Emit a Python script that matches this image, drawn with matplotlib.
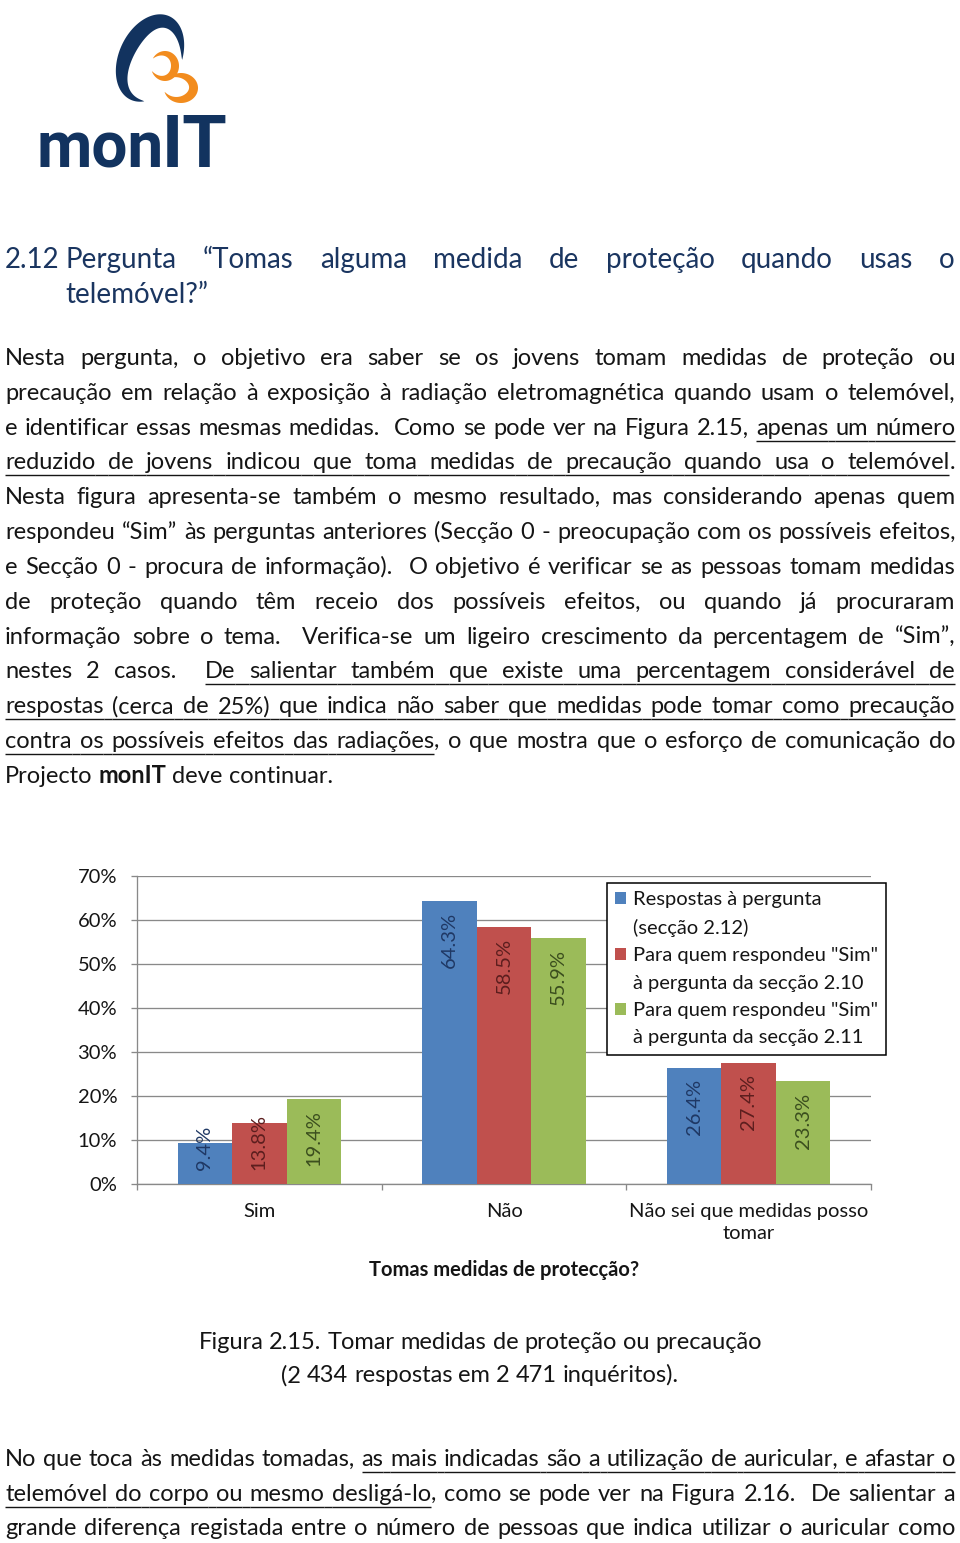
import numpy as np
import matplotlib
matplotlib.use('Agg')
import matplotlib.pyplot as plt
from matplotlib.lines import Line2D
from matplotlib.patches import Polygon, Patch

W, H = 960, 1543
BODY_FONT = ['Lato', 'DejaVu Sans']
LOGO_FONT = ['Roboto', 'DejaVu Sans']
TEXT_COLOR = '#151515'
HEAD_COLOR = '#1A3560'
NAVY = '#12335F'
ORANGE = '#F28C1E'
GRID = '#898989'
plt.rcParams['font.family'] = BODY_FONT

# ---------------- data ----------------
categories = ['Sim', 'Não', 'Não sei que medidas posso\ntomar']
series_names = ['Respostas à pergunta\n(secção 2.12)',
                'Para quem respondeu "Sim"\nà pergunta da secção 2.10',
                'Para quem respondeu "Sim"\nà pergunta da secção 2.11']
resp_2_12 = [9.4, 64.3, 26.4]
sim_2_10 = [13.8, 58.5, 27.4]
sim_2_11 = [19.4, 55.9, 23.3]
bar_colors = ['#4F81BD', '#C0504D', '#9BBB59']
label_colors = ['#1F3864', '#5C1E1E', '#3B4E1E']
y_ticks = [0, 10, 20, 30, 40, 50, 60, 70]
y_tick_labels = ['0%', '10%', '20%', '30%', '40%', '50%', '60%', '70%']
x_title = 'Tomas medidas de protecção?'

heading_num = '2.12'
heading_line1 = 'Pergunta  “Tomas  alguma  medida  de  proteção  quando  usas  o'
heading_line2 = 'telemóvel?”'

para1 = [
    'Nesta pergunta, o objetivo era saber se os jovens tomam medidas de proteção ou',
    'precaução em relação à exposição à radiação eletromagnética quando usam o telemóvel,',
    'e identificar essas mesmas medidas.  Como se pode ver na Figura 2.15, _apenas um número_',
    '_reduzido de jovens indicou que toma medidas de precaução quando usa o telemóvel_.',
    'Nesta figura apresenta-se também o mesmo resultado, mas considerando apenas quem',
    'respondeu “Sim” às perguntas anteriores (Secção 0 - preocupação com os possíveis efeitos,',
    'e Secção 0 - procura de informação).  O objetivo é verificar se as pessoas tomam medidas',
    'de proteção quando têm receio dos possíveis efeitos, ou quando já procuraram',
    'informação sobre o tema.  Verifica-se um ligeiro crescimento da percentagem de “Sim”,',
    'nestes 2 casos.  _De salientar também que existe uma percentagem considerável de_',
    '_respostas (cerca de 25%) que indica não saber que medidas pode tomar como precaução_',
    '_contra os possíveis efeitos das radiações_, o que mostra que o esforço de comunicação do',
    'Projecto *monIT* deve continuar.',
]
caption = ['Figura 2.15. Tomar medidas de proteção ou precaução',
           '(2 434 respostas em 2 471 inquéritos).']
para2 = [
    'No que toca às medidas tomadas, _as mais indicadas são a utilização de auricular, e afastar o_',
    '_telemóvel do corpo ou mesmo desligá-lo_, como se pode ver na Figura 2.16.  De salientar a',
    'grande diferença registada entre o número de pessoas que indica utilizar o auricular como',
]

BODY = 17.0
HEAD = 20.0
CS = 14.5

fig = plt.figure(figsize=(W / 100, H / 100), dpi=100)
fig.patch.set_facecolor('white')
renderer = fig.canvas.get_renderer()


def tw(s, size, weight='normal'):
    t = fig.text(0, 0, s, fontsize=size, fontweight=weight, family=BODY_FONT)
    w = t.get_window_extent(renderer=renderer).width
    t.remove()
    return w


def uline(xa, xb, y, color, lw=1.4):
    fig.add_artist(Line2D([xa / W, xb / W], [1 - y / H, 1 - y / H],
                          transform=fig.transFigure, color=color,
                          lw=lw * 0.72, solid_capstyle='butt'))


def tokenize(line):
    chars = []
    u = b = False
    for ch in line:
        if ch == '_':
            u = not u
            continue
        if ch == '*':
            b = not b
            continue
        chars.append((ch, u, b))
    tokens = []
    for ch, u, b in chars:
        if ch == ' ':
            if tokens and tokens[-1][0] == 'g':
                tokens[-1][1] += 1
                tokens[-1][2] = tokens[-1][2] and u
            else:
                tokens.append(['g', 1, u])
        else:
            if tokens and tokens[-1][0] == 'w':
                tokens[-1][1].append((ch, u, b))
            else:
                tokens.append(['w', [(ch, u, b)]])
    return tokens


def group_runs(chars):
    runs = []
    for ch, u, b in chars:
        if runs and runs[-1][1] == u and runs[-1][2] == b:
            runs[-1][0] += ch
        else:
            runs.append([ch, u, b])
    return runs


def draw_line(line, x0, x1, base, size, color, mode='justify', uoff=6):
    items = []
    total = 0
    nsp = 0
    for tok in tokenize(line):
        if tok[0] == 'w':
            runs = group_runs(tok[1])
            ws = [tw(r[0], size, 'bold' if r[2] else 'normal') for r in runs]
            items.append(('w', runs, ws))
            total += sum(ws)
        else:
            items.append(('g', tok[1], tok[2]))
            nsp += tok[1]
    space = tw('a a', size) - tw('aa', size)
    sp = (x1 - x0 - total) / nsp if (mode == 'justify' and nsp) else space
    x = x0 if mode != 'center' else (x0 + x1) / 2 - (total + nsp * sp) / 2
    for it in items:
        if it[0] == 'w':
            for r, w in zip(it[1], it[2]):
                fig.text(x / W, 1 - base / H, r[0], fontsize=size,
                         fontweight='bold' if r[2] else 'normal',
                         family=BODY_FONT, color=color, va='baseline', ha='left')
                if r[1]:
                    uline(x, x + w, base + uoff, color)
                x += w
        else:
            w = it[1] * sp
            if it[2]:
                uline(x, x + w, base + uoff, color)
            x += w


# ---------------- logo ----------------
axl = fig.add_axes([0, 1 - 190 / H, 260 / W, 190 / H])
axl.set_xlim(0, 260)
axl.set_ylim(190, 0)
axl.axis('off')


def crescent(cx, cy, a, b, rot, t0, t1, wmax, n=160):
    t = np.radians(np.linspace(t0, t1, n))
    w = wmax * np.sin(np.pi * np.linspace(0, 1, n)) ** 0.8
    ox, oy = a * np.cos(t), b * np.sin(t)
    ix, iy = (a - w) * np.cos(t), (b - w) * np.sin(t)
    xs = np.concatenate([ox, ix[::-1]])
    ys = np.concatenate([oy, iy[::-1]])
    r = np.radians(rot)
    X = cx + xs * np.cos(r) - ys * np.sin(r)
    Y = cy + xs * np.sin(r) + ys * np.cos(r)
    return np.column_stack([X, Y])


axl.add_patch(Polygon(crescent(150, 58, 31, 46, 25, -15, -295, 16), closed=True,
                      facecolor=NAVY, edgecolor='none'))
axl.add_patch(Polygon(crescent(165, 66, 14, 15, 0, 160, -150, 8), closed=True,
                      facecolor=ORANGE, edgecolor='none'))
axl.add_patch(Polygon(crescent(181, 88, 17, 15, 0, 165, -140, 9), closed=True,
                      facecolor=ORANGE, edgecolor='none'))
axl.text(36, 167, 'mon', fontsize=46, fontweight='bold', family=LOGO_FONT,
         color=NAVY, va='baseline', ha='left')
axl.text(228, 167, 'IT', fontsize=52, fontweight='bold', family=LOGO_FONT,
         color=NAVY, va='baseline', ha='right')

# ---------------- heading & text ----------------
fig.text(5 / W, 1 - 268 / H, heading_num, fontsize=HEAD, color=HEAD_COLOR,
         va='baseline', ha='left')
draw_line(heading_line1, 65, 955, 268, HEAD, HEAD_COLOR)
draw_line(heading_line2, 65, 955, 303, HEAD, HEAD_COLOR, mode='left')

for i, ln in enumerate(para1):
    mode = 'left' if i == len(para1) - 1 else 'justify'
    draw_line(ln, 5, 955, 365 + 34.83 * i, BODY, TEXT_COLOR, mode=mode)

for i, ln in enumerate(caption):
    draw_line(ln, 0, 960, 1349 + 33.5 * i, BODY, TEXT_COLOR, mode='center')

for i, ln in enumerate(para2):
    draw_line(ln, 5, 955, 1466 + 34.7 * i, BODY, TEXT_COLOR)

# ---------------- chart ----------------
ax = fig.add_axes([137 / W, 1 - 1184 / H, (871 - 137) / W, (1184 - 876) / H])
x = np.arange(len(categories))
bw = 0.2227
series = [resp_2_12, sim_2_10, sim_2_11]
containers = []
for i, vals in enumerate(series):
    c = ax.bar(x + (i - 1) * bw, vals, bw, color=bar_colors[i], zorder=3,
               linewidth=0)
    containers.append(c)

ax.set_xlim(-0.5, len(categories) - 0.5)
ax.set_ylim(0, 70)
ax.set_yticks(y_ticks)
ax.set_yticklabels(y_tick_labels)
ax.set_xticks(x)
ax.set_xticklabels(categories, linespacing=1.35)
ax.set_xticks(np.arange(len(categories) + 1) - 0.5, minor=True)
ax.set_axisbelow(True)
ax.yaxis.grid(True, color=GRID, lw=0.95)
for s in ['top', 'right']:
    ax.spines[s].set_visible(False)
for s in ['left', 'bottom']:
    ax.spines[s].set_color(GRID)
    ax.spines[s].set_linewidth(0.95)
ax.tick_params(axis='x', which='major', length=0, pad=13.5, labelsize=CS,
               labelcolor=TEXT_COLOR)
ax.tick_params(axis='x', which='minor', length=4.3, width=0.95, color=GRID)
ax.tick_params(axis='y', length=4.3, width=0.95, color=GRID, pad=10,
               labelsize=CS, labelcolor=TEXT_COLOR)

fig.canvas.draw()
for i, vals in enumerate(series):
    for j, v in enumerate(vals):
        xc = j + (i - 1) * bw
        txt = f'{v:.1f}%'
        L = tw(txt, CS)
        top_px = ax.transData.transform((xc, v))[1]
        base_px = ax.transData.transform((xc, 0))[1]
        ytop = max(top_px - 11, base_px + 14 + L)
        yd = ax.transData.inverted().transform((0, ytop))[1]
        ax.text(xc, yd, txt, rotation=90, ha='center', va='top', fontsize=CS,
                color=label_colors[i], zorder=4)

handles, labels = [], []
for i, c in enumerate(containers):
    l1, l2 = series_names[i].split('\n')
    handles += [c, Patch(facecolor='none', edgecolor='none')]
    labels += [l1, l2]
leg = ax.legend(handles, labels, loc='upper left',
                bbox_to_anchor=(607 / W, 1 - 883 / H), bbox_transform=fig.transFigure,
                borderaxespad=0, frameon=True, fancybox=False, edgecolor='black',
                framealpha=1, prop=dict(family=BODY_FONT, size=CS),
                handlelength=0.55, handleheight=0.55, handletextpad=0.35,
                borderpad=0.4, labelspacing=0.52)
leg.get_frame().set_linewidth(1.1)
for t in leg.get_texts():
    t.set_color(TEXT_COLOR)

fig.text(504 / W, 1 - 1276 / H, x_title, fontsize=CS, fontweight='bold',
         color=TEXT_COLOR, ha='center', va='baseline')

fig.savefig('out.png', dpi=100, facecolor='white')
